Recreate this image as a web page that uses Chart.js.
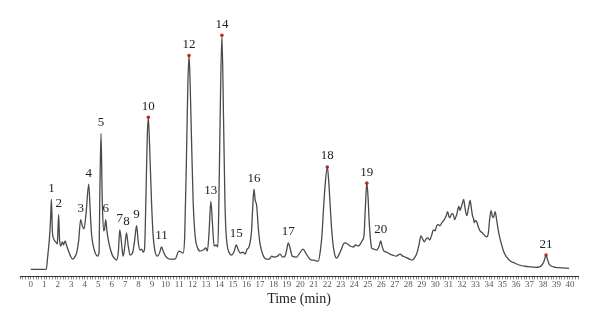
<!DOCTYPE html>
<html>
<head>
<meta charset="utf-8">
<script src="https://cdn.jsdelivr.net/npm/chart.js@4.4.1/dist/chart.umd.min.js"></script>
<style>
  html, body { margin: 0; padding: 0; background: #fff; }
  #wrap { width: 600px; height: 325px; }
</style>
</head>
<body>
<div id="wrap"><canvas id="chart"></canvas></div>
<script>
// retention time (min) and detector signal
const times = [
  0, 1.15, 1.25, 1.38, 1.47, 1.53, 1.6, 1.7, 1.85, 1.97, 2.02, 2.07, 2.13, 2.22, 2.35, 2.43, 2.55, 2.67, 2.8, 2.95,
  3.12, 3.3, 3.4, 3.55, 3.7, 3.82, 3.95, 4.1, 4.3, 4.4, 4.5, 4.62, 4.78, 4.95, 5.06, 5.13, 5.21, 5.3, 5.4, 5.48,
  5.56, 5.65, 5.75, 5.9, 6.05, 6.2, 6.36, 6.5, 6.6, 6.7, 6.85, 6.97, 7.1, 7.22, 7.37, 7.55, 7.7, 7.85, 7.98, 8.1,
  8.22, 8.35, 8.44, 8.55, 8.64, 8.72, 8.82, 8.96, 9.08, 9.2, 9.4, 9.55, 9.7, 9.85, 10.0, 10.3, 10.7, 10.99, 11.3, 11.42,
  11.55, 11.65, 11.74, 11.82, 11.94, 12.05, 12.2, 12.35, 12.55, 12.8, 12.98, 13.1, 13.22, 13.36, 13.48, 13.6, 13.75, 13.88, 13.96, 14.05,
  14.18, 14.3, 14.4, 14.47, 14.57, 14.7, 14.9, 15.07, 15.25, 15.4, 15.55, 15.75, 15.9, 16.05, 16.15, 16.25, 16.38, 16.48, 16.56, 16.65,
  16.76, 16.88, 17.0, 17.13, 17.3, 17.5, 17.7, 17.87, 18.05, 18.3, 18.49, 18.7, 18.86, 19.0, 19.1, 19.22, 19.4, 19.72, 19.95, 20.2,
  20.4, 20.71, 21.0, 21.33, 21.5, 21.6, 21.72, 21.85, 22.0, 22.1, 22.2, 22.32, 22.44, 22.56, 22.69, 22.85, 23.05, 23.2, 23.35, 23.5,
  23.7, 23.93, 24.1, 24.3, 24.5, 24.62, 24.72, 24.82, 24.93, 25.02, 25.1, 25.2, 25.29, 25.45, 25.66, 25.85, 25.96, 26.08, 26.2, 26.4,
  26.65, 26.85, 27.1, 27.4, 27.6, 27.8, 28.1, 28.31, 28.5, 28.65, 28.8, 28.95, 29.07, 29.2, 29.33, 29.45, 29.6, 29.75, 29.87, 30.0,
  30.12, 30.25, 30.36, 30.5, 30.68, 30.8, 30.93, 31.02, 31.1, 31.22, 31.35, 31.45, 31.52, 31.62, 31.7, 31.77, 31.85, 31.93, 32.02, 32.12,
  32.22, 32.35, 32.47, 32.6, 32.68, 32.77, 32.85, 32.9, 32.98, 33.09, 33.2, 33.33, 33.5, 33.7, 33.83, 33.95, 34.05, 34.15, 34.25, 34.33,
  34.45, 34.55, 34.69, 34.8, 34.94, 35.1, 35.31, 35.6, 35.93, 36.3, 36.67, 37.0, 37.42, 37.75, 37.91, 38.08, 38.23, 38.33, 38.46, 38.65,
  38.9, 39.4, 39.94
];
const signal = [
  0, 0, 12, 30, 50, 69, 38, 30, 27, 25, 40, 54, 30, 23, 27, 24, 28, 23, 18, 13,
  10, 13, 16, 28, 49, 43, 40, 55, 84, 60, 36, 24, 16, 13, 16, 80, 134, 70, 38, 40,
  49, 38, 29, 20, 14, 11, 9, 18, 39, 30, 13, 22, 36, 24, 14, 16, 28, 43, 26, 19,
  20, 17, 20, 75, 130, 150, 120, 66, 33, 19, 13, 16, 22, 17, 13, 10, 10, 18, 16, 33,
  110, 180, 211, 185, 120, 66, 32, 22, 18, 19, 21, 18, 35, 67, 45, 23, 24, 22, 70, 150,
  231, 150, 70, 40, 24, 17, 14, 17, 24, 19, 16, 17, 15, 20, 21, 25, 38, 65, 79, 68,
  63, 41, 26, 18, 12, 10, 10, 13, 12, 13, 15, 12, 13, 20, 26, 22, 13, 12, 16, 20,
  16, 10, 9, 8, 20, 33, 60, 85, 101, 88, 66, 40, 23, 14, 11, 14, 20, 25, 26, 25,
  23, 22, 24, 23, 26, 29, 33, 60, 85, 72, 49, 30, 21, 20, 19, 23, 28, 22, 18, 17,
  15, 14, 13, 15, 13, 12, 10, 9, 12, 16, 24, 33, 30, 27, 30, 31, 29, 34, 39, 38,
  43, 44, 43, 46, 49, 52, 57, 52, 51, 55, 54, 49, 51, 55, 60, 62, 58, 61, 65, 69,
  60, 53, 60, 68, 61, 53, 50, 46, 48, 47, 42, 38, 36, 33, 32, 36, 50, 58, 52, 51,
  57, 50, 38, 31, 24, 17, 12, 8, 6, 4, 3, 2.5, 2, 2.5, 4, 8, 14, 10, 5, 3,
  2, 1.5, 1
];

// numbered peaks
const peakNames = ['1', '2', '3', '4', '5', '6', '7', '8', '9', '10', '11',
  '12', '13', '14', '15', '16', '17', '18', '19', '20', '21'];
const peakTimes = [1.53, 2.07, 3.7, 4.3, 5.21, 5.56, 6.6, 7.1, 7.85, 8.72, 9.7,
  11.74, 13.36, 14.18, 15.25, 16.56, 19.1, 22.0, 24.93, 25.96, 38.23];
const peakHeights = [69, 54, 49, 84, 134, 49, 39, 36, 43, 150, 22,
  211, 67, 231, 24, 79, 26, 101, 85, 28, 14];
const markedPeaks = ['10', '12', '14', '18', '19', '21'];

const trace = times.map((t, i) => ({ x: t, y: signal[i] }));
const marks = peakNames
  .map((n, i) => ({ n, x: peakTimes[i], y: peakHeights[i] }))
  .filter(p => markedPeaks.includes(p.n));

const peakLabels = {
  id: 'peakLabels',
  afterDatasetsDraw(chart) {
    const { ctx, scales: { x, y } } = chart;
    ctx.save();
    ctx.font = '13px "Liberation Serif", serif';
    ctx.fillStyle = '#222';
    ctx.textAlign = 'center';
    ctx.textBaseline = 'middle';
    peakNames.forEach((name, i) => {
      ctx.fillText(name, x.getPixelForValue(peakTimes[i]), y.getPixelForValue(peakHeights[i]) - 11);
    });
    ctx.restore();
  }
};

new Chart(document.getElementById('chart'), {
  type: 'line',
  data: {
    datasets: [
      {
        data: trace,
        borderColor: '#4a4a4a',
        borderWidth: 1.3,
        pointRadius: 0,
        cubicInterpolationMode: 'monotone',
        fill: false
      },
      {
        data: marks,
        showLine: false,
        pointRadius: 1.8,
        pointBackgroundColor: '#e0201b',
        pointBorderWidth: 0
      }
    ]
  },
  options: {
    responsive: true,
    maintainAspectRatio: false,
    animation: false,
    layout: { padding: { left: 20, right: 22, top: 20, bottom: 17 } },
    plugins: {
      legend: { display: false },
      tooltip: { enabled: false }
    },
    scales: {
      x: {
        type: 'linear',
        min: -0.8,
        max: 40.6,
        grid: { drawOnChartArea: false, tickLength: 3, color: '#888' },
        border: { display: true, color: '#333', width: 1 },
        ticks: {
          stepSize: 0.2,
          autoSkip: false,
          maxRotation: 0,
          maxTicksLimit: 1000,
          padding: 0,
          color: '#555',
          font: { family: '"Liberation Serif", serif', size: 9 },
          callback: v => {
            const r = Math.round(v);
            return Math.abs(v - r) < 1e-6 && r >= 0 && r <= 40 ? String(r) : '';
          }
        },
        title: {
          display: true,
          text: 'Time (min)',
          color: '#222',
          padding: { top: 1, bottom: 0 },
          font: { family: '"Liberation Serif", serif', size: 14 }
        }
      },
      y: {
        display: false,
        min: -7,
        max: 246
      }
    }
  },
  plugins: [peakLabels]
});
</script>
</body>
</html>
